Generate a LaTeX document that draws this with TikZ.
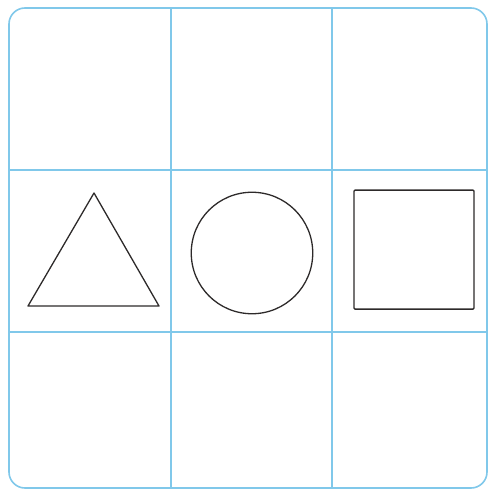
\documentclass[tikz,border=0pt]{standalone}
\usepackage{tikz}
\usetikzlibrary{positioning}

\definecolor{gridblue}{RGB}{128,200,234}
\definecolor{shapeline}{RGB}{45,42,42}

\begin{document}
\begin{tikzpicture}[
        x=1pt, y=-1pt,
        frame/.style={draw=gridblue, line width=1.6pt, rounded corners=16pt},
        gridline/.style={draw=gridblue, line width=1.1pt},
        figure/.style={draw=shapeline, line width=1.3pt, line join=round}
    ]

    % Page size
    \useasboundingbox (0,0) rectangle (489,490);

    % Outer frame and grid
    \draw[frame] (9,8) rectangle (487,488);
    \foreach \x in {171, 332} {
        \draw[gridline] (\x, 8) -- (\x, 488);
    }
    \foreach \y in {170, 332} {
        \draw[gridline] (9, \y) -- (487, \y);
    }

    % Triangle
    \coordinate (tri-top) at (94, 193);
    \coordinate (tri-left) at (28, 306);
    \coordinate (tri-right) at (159, 306);
    \draw[figure] (tri-top) -- (tri-right) -- (tri-left) -- cycle;

    % Circle
    \node[figure, circle, minimum size=121.5pt, inner sep=0pt] (circ) at (252, 253) {};

    % Square
    \node[figure, rectangle, rounded corners=1pt, minimum width=120pt, minimum height=119pt, inner sep=0pt] (sq) at (414, 249.6) {};

\end{tikzpicture}
\end{document}
